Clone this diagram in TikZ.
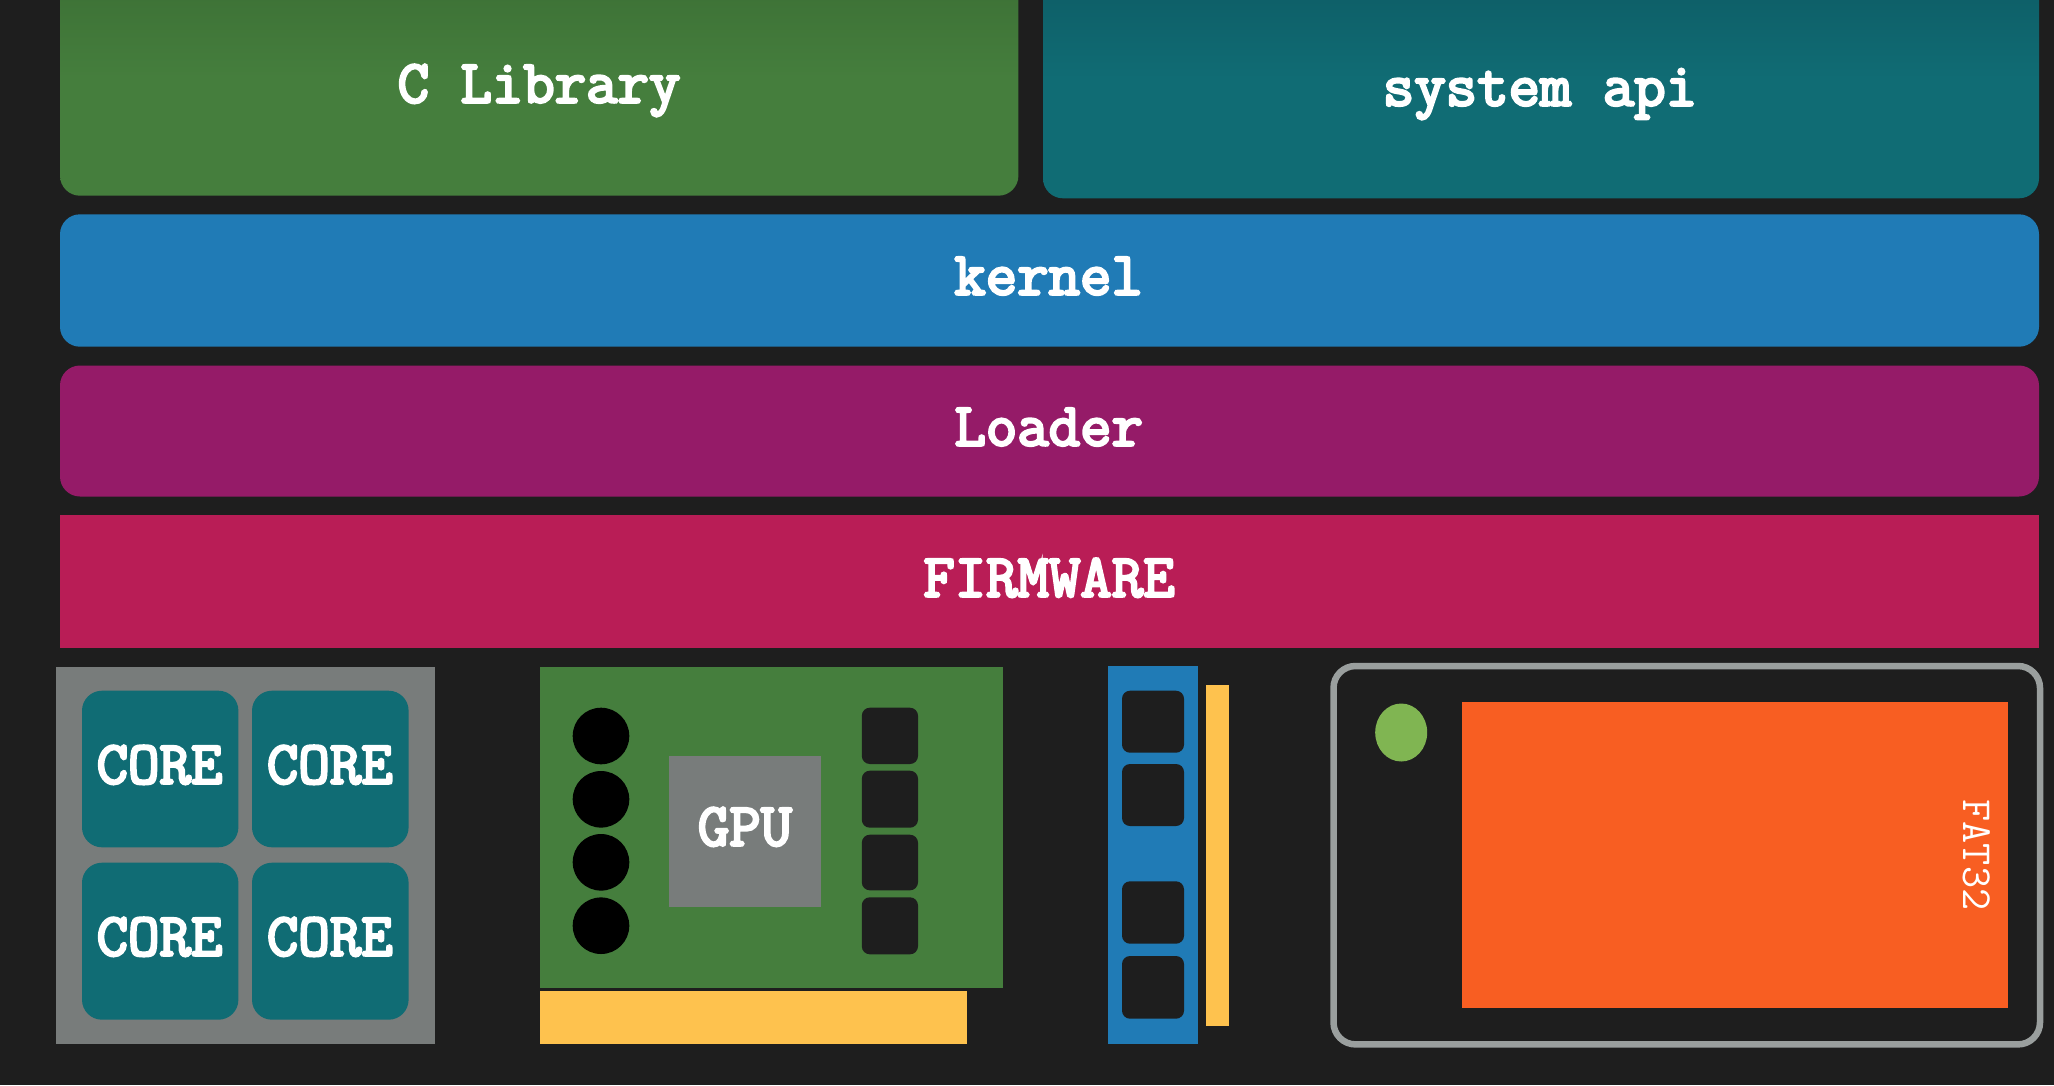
\documentclass[tikz,border=0pt]{standalone}
\usepackage{fontspec}
\newfontfamily\lblfont[FakeBold=4.2]{Latin Modern Mono}
\newfontfamily\fatfont{Latin Modern Mono}
\definecolor{bgc}{HTML}{1E1E1E}
\definecolor{grn}{HTML}{457E3D}
\definecolor{grnt}{HTML}{3B6E34}
\definecolor{teal}{HTML}{106C74}
\definecolor{tealt}{HTML}{0D5A63}
\definecolor{blu}{HTML}{207BB6}
\definecolor{pur}{HTML}{951B68}
\definecolor{crm}{HTML}{B91D56}
\definecolor{gry}{HTML}{787C7B}
\definecolor{yel}{HTML}{FEC24E}
\definecolor{org}{HTML}{F85E22}
\definecolor{lim}{HTML}{80B552}
\definecolor{edg}{HTML}{9A9F9E}
\tikzset{
  lbl/.style={text=white,anchor=base,inner sep=0pt,font=\fontsize{61}{61}\selectfont\lblfont},
  thin lbl/.style={text=white,inner sep=0pt,font=\fontsize{43}{43}\selectfont\fatfont},
  bar/.style={rounded corners=20pt},
  chip/.style={fill=bgc,rounded corners=8pt},
  core/.style={fill=teal,rounded corners=20pt},
  hole/.style={fill=black},
}
\begin{document}
\begin{tikzpicture}[x=1pt,y=-1pt]
\useasboundingbox (0,0) rectangle (2054,1085);
\clip (0,0) rectangle (2054,1085);
\fill[bgc] (0,0) rectangle (2054,1085);
% software layers
\path[bar,top color=grnt,bottom color=grn,middle color=grn] (60,-40) rectangle (1018.4,195.7);
\path[bar,top color=tealt,bottom color=teal,middle color=teal] (1043,-40) rectangle (2039,198.3);
\fill[bar,blu] (60,214.3) rectangle (2039,346.7);
\fill[bar,pur] (60,365.5) rectangle (2039,496.5);
\fill[crm] (60,515) rectangle (2039,648);
\node[lbl] (clib) at (539,102.5) {C Library};
\node[lbl] (sysapi) at (1540,105.5) {system api};
\node[lbl] (kernel) at (1048.6,294.5) {kernel};
\node[lbl] (loader) at (1048.7,445.5) {Loader};
\node[lbl] (firmware) at (1049,596.5) {FIRMWARE};
% CPU
\fill[gry] (55.7,667) rectangle (434.8,1044);
\fill[core] (82,690.7) rectangle (238.4,847.3);
\fill[core] (252,690.7) rectangle (408.6,847.3);
\fill[core] (82,862.7) rectangle (238.4,1019.7);
\fill[core] (252,862.7) rectangle (408.6,1019.7);
\node[lbl] (core1) at (159.5,783.5) {CORE};
\node[lbl] (core2) at (329.8,783.5) {CORE};
\node[lbl] (core3) at (159.5,955.5) {CORE};
\node[lbl] (core4) at (329.8,955.5) {CORE};
% GPU card
\fill[grn] (539.6,667) rectangle (1002.5,988);
\fill[yel] (539.6,990.7) rectangle (966.6,1044);
\fill[hole] (601,736) circle (28.3);
\fill[hole] (601,799.3) circle (28.3);
\fill[hole] (601,862.3) circle (28.3);
\fill[hole] (601,925.7) circle (28.3);
\fill[gry] (669.3,756) rectangle (821,906.7);
\node[lbl] (gpu) at (745,845.5) {GPU};
\fill[chip] (861.8,707.7) rectangle (918,764);
\fill[chip] (861.8,770.7) rectangle (918,827.7);
\fill[chip] (861.8,834.7) rectangle (918,890.3);
\fill[chip] (861.8,897.3) rectangle (918,954.3);
% RAM
\fill[blu] (1108.2,666) rectangle (1197.9,1044);
\fill[yel] (1205.8,685) rectangle (1228.7,1025.7);
\fill[chip] (1122,690.7) rectangle (1184,752.7);
\fill[chip] (1122,764) rectangle (1184,826);
\fill[chip] (1122,881.3) rectangle (1184,943.7);
\fill[chip] (1122,956) rectangle (1184,1018.7);
% SD card
\draw[edg,line width=6.5pt,rounded corners=22pt] (1333.5,666) rectangle (2040,1044.4);
\fill[lim] (1401.2,732.5) ellipse (26 and 29);
\fill[org] (1461.8,702.3) rectangle (2008,1008.3);
\node[thin lbl,rotate=-90] (fat) at (1977,855) {FAT32};
\end{tikzpicture}
\end{document}
